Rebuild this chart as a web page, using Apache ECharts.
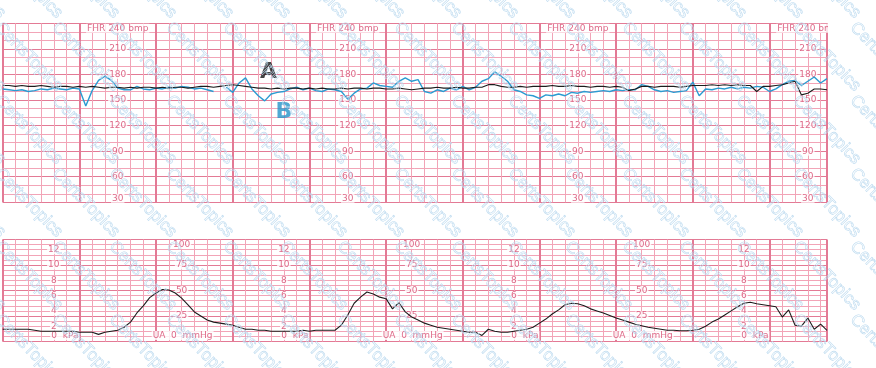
<!DOCTYPE html>
<html><head><meta charset="utf-8">
<script src="https://cdn.jsdelivr.net/npm/echarts@6/dist/echarts.min.js"></script>
<style>html,body{margin:0;padding:0;background:#fff}#c{width:876px;height:368px}</style>
</head><body><div id="c"></div><script>
// time step between samples (seconds); one minor grid division = 10 s, one major = 60 s
const STEP = 5;
const fhrA = [167,167,166,167,166,166,167,166,165,166, 166,165,166,165,166,165,164,165,165,164,
  165,164,165,165,164,165,164,165,165,164, 165,166,166,165,166,167,168,167,166,165,
  164,164,163,164,163,164,164,163,164,163, 164,163,163,164,163,164,164,163,164,164,
  163,163,164,163,162,163,164,164,165,164, 164,165,164,164,165,165,168,168,166,165,
  165,166,165,166,166,166,167,166,166,167, 166,166,165,166,166,165,166,165,161,163,
  166,166,165,166,166,166,165,166,167,167, 167,168,167,168,167,168,167,167,160,166,
  166,167,168,170,172,156,158,163,163,162];
const fhrB = [163,162,161,162,160,161,163,162,164,163, 162,164,163,143,161,173,178,173,164,162,
  162,166,163,162,164,163,165,164,166,165, 163,164,162,160,null,165,159,170,176,163,
  155,149,157,159,160,163,165,162,164,161, 160,163,162,160,151,158,163,164,170,167,
  166,165,172,176,172,174,160,158,162,160, 164,162,166,162,165,172,175,183,178,172,
  162,160,156,155,152,156,155,157,155,159, 158,160,159,160,161,160,162,161,162,162,
  168,166,162,160,161,159,160,161,171,155, 163,162,164,163,165,163,165,164,166,165,
  160,163,168,172,173,167,172,177,170,175];
const ua = [12,12,12,12,12,11,10,10,10,10, 10,10,9,9,9,7,9,10,11,14,
  19,28,35,43,47.5,51,50.5,47.5,42.5,36, 29,25,21,19,18,17,16,14,12,12,
  11,11,10,10,10,10,10,11,10,11, 11,11,11,16,26,37.5,43.5,48.5,46.5,43.5,
  42,32,38,29,24,21,18,16,14,13, 12,11,10,9,9,6,12,10,9,9,
  10,11,12,14,18,22,27,31,36,37.5, 37,35,32,30,28,25.5,23,21,19,17,
  15.5,14,13,12,11,11,10.5,10.5,11,12, 15,19,22,26,30,34,37.5,38.5,37,36,
  35,34,24,31,16,15,23,12,17,11];

const fhrTicks = [30,60,90,120,150,180,210];
const fhrTopLabel = 'FHR 240 bmp';
const fhrLabelTimes = [90,270,450,630];
const kpaTicks = [2,4,6,8,10,12];
const kpaLabelTimes = [40,220,400,580];
const mmHgTicks = [25,50,75,100];
const mmHgLabelTimes = [140,320,500];
const KPA_TO_MMHG = 7.5;
const markA = {text:'A', t:208, bpm:183};
const markB = {text:'B', t:220, bpm:136};

const MINOR = '#f2a4b7', MAJOR = '#e37a95', LBL = '#d6436a';
const FONT = 'DejaVu Sans';
const toPairs = arr => arr.map((v,i)=>[i*STEP, v]);

const topLabels = [];
fhrLabelTimes.forEach(t => {
  fhrTicks.forEach(v => topLabels.push({value:[t,v], label:{formatter:String(v), offset:[0, v===30?-4:0]}}));
  topLabels.push({value:[t,240], label:{formatter:fhrTopLabel, offset:[0,5]}});
});
const botLabels = [];
kpaLabelTimes.forEach(t => {
  kpaTicks.forEach(k => botLabels.push({value:[t,k*KPA_TO_MMHG], label:{formatter:String(k)}}));
  botLabels.push({value:[t,0], label:{formatter:'0  kPa', offset:[11,-6]}});
});
mmHgLabelTimes.forEach(t => {
  mmHgTicks.forEach(v => botLabels.push({value:[t,v], label:{formatter:String(v), offset:[0, v===100?5:0]}}));
  botLabels.push({value:[t,0], label:{formatter:'UA  0  mmHg', offset:[1,-6]}});
});

function xAx(g){return {type:'value', gridIndex:g, min:0, max:645, interval:60,
  axisLine:{show:false}, axisTick:{show:false}, axisLabel:{show:false},
  splitLine:{show:true, lineStyle:{color:MAJOR, width:2}},
  minorTick:{show:false, splitNumber:6},
  minorSplitLine:{show:true, lineStyle:{color:MINOR, width:1}}};}
function yAx(g,min,max,iv,sn){return {type:'value', gridIndex:g, min:min, max:max, interval:iv,
  axisLine:{show:false}, axisTick:{show:false}, axisLabel:{show:false},
  splitLine:{show:true, lineStyle:{color:MAJOR, width:1.2}},
  minorTick:{show:false, splitNumber:sn},
  minorSplitLine:{show:true, lineStyle:{color:MINOR, width:1}}};}

const labelStyle = {show:true, position:'inside', color:LBL, fontFamily:FONT, fontSize:9,
  backgroundColor:'#fff', padding:[0,1]};

const wm = [];
for (let j=-2;j<6;j++) for (let i=-2;i<17;i++) {
  wm.push({type:'text', x:4+57*i, y:19+73*j, rotation:-0.8, silent:true, z:100,
    style:{text:'CertsTopics', font:'17px "Liberation Sans"', fill:'rgba(255,255,255,0)', stroke:'#bcdaef', lineWidth:0.6}});
}

const chart = echarts.init(document.getElementById('c'), null, {renderer:'canvas'});
chart.setOption({
  animation:false,
  backgroundColor:'#fff',
  grid:[{left:2.7, top:23.3, width:824.3, height:179, show:false},
        {left:2.7, top:239.5, width:824.3, height:102, show:false}],
  xAxis:[xAx(0), xAx(1)],
  yAxis:[yAx(0,30,240,30,3), yAx(1,0,100,25,5)],
  graphic:[{type:'rect', left:828, top:18, shape:{width:48, height:16}, style:{fill:'#fff'}, z:50, silent:true}].concat(wm),
  series:[
    {type:'scatter', xAxisIndex:0, yAxisIndex:0, z:1, clip:false, symbolSize:1, silent:true,
     itemStyle:{color:'rgba(0,0,0,0)'}, label:labelStyle, data:topLabels},
    {type:'scatter', xAxisIndex:1, yAxisIndex:1, z:1, clip:false, symbolSize:1, silent:true,
     itemStyle:{color:'rgba(0,0,0,0)'}, label:labelStyle, data:botLabels},
    {type:'line', name:'A', xAxisIndex:0, yAxisIndex:0, z:3, data:toPairs(fhrA), showSymbol:false, symbol:'none',
     lineStyle:{color:'#1c1c1c', width:1.1}},
    {type:'line', name:'B', xAxisIndex:0, yAxisIndex:0, z:2, data:toPairs(fhrB), showSymbol:false, symbol:'none',
     connectNulls:false, lineStyle:{color:'#2b9bd1', width:1.4}},
    {type:'line', name:'UA', xAxisIndex:1, yAxisIndex:1, z:3, data:toPairs(ua), showSymbol:false, symbol:'none',
     lineStyle:{color:'#1c1c1c', width:1.1}},
    {type:'scatter', xAxisIndex:0, yAxisIndex:0, z:4, clip:false, symbolSize:1, silent:true,
     itemStyle:{color:'rgba(0,0,0,0)'},
     label:{show:true, position:'inside', fontFamily:FONT, fontSize:22, fontWeight:'bold'},
     data:[{value:[markA.t, markA.bpm], label:{formatter:markA.text, color:'#151515'}},
           {value:[markB.t, markB.bpm], label:{formatter:markB.text, color:'#2593c8'}}]}
  ]
});
</script></body></html>
